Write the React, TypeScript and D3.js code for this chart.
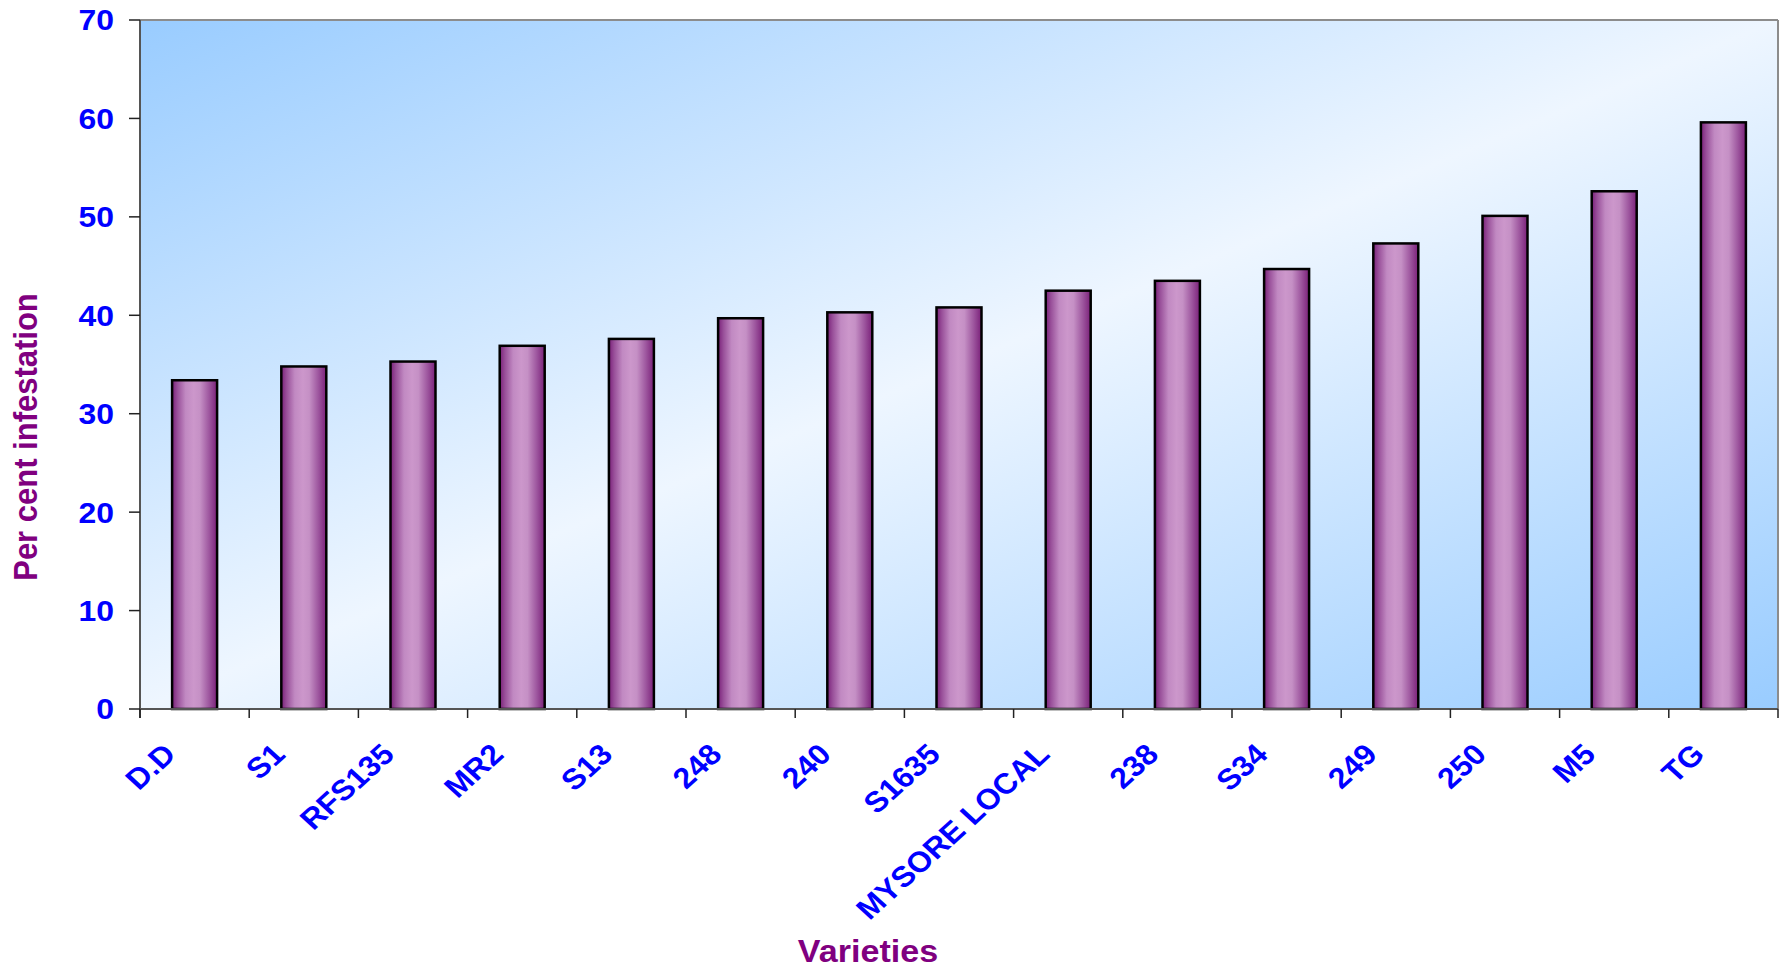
import React from "react";
import * as d3 from "d3";

// Per cent infestation recorded for each variety
const varieties = [
  "D.D", "S1", "RFS135", "MR2", "S13", "248", "240", "S1635",
  "MYSORE LOCAL", "238", "S34", "249", "250", "M5", "TG",
];
const infestation = [
  33.4, 34.8, 35.3, 36.9, 37.6, 39.7, 40.3, 40.8,
  42.5, 43.5, 44.7, 47.3, 50.1, 52.6, 59.6,
];
const yTicks = [0, 10, 20, 30, 40, 50, 60, 70];

const W = 1783;
const H = 970;
const plot = { left: 140, right: 1778, top: 20, bottom: 709 };
const STRETCH = 1.1; // labels are drawn slightly wide

export default function App() {
  const x = d3
    .scaleBand<string>()
    .domain(varieties)
    .range([plot.left, plot.right])
    .paddingInner(0.588)
    .paddingOuter(0.294);
  const step = (plot.right - plot.left) / varieties.length;
  const y = d3.scaleLinear().domain([0, 70]).range([plot.bottom, plot.top]);

  const boundaries = d3.range(varieties.length + 1).map((i) => plot.left + i * step);

  return (
    <svg
      width={W}
      height={H}
      style={{ position: "absolute", left: 0, top: 0, background: "#fff" }}
      fontFamily="'Liberation Sans', Arial, sans-serif"
    >
      <defs>
        <linearGradient id="plotBg" x1="0" y1="0" x2="1" y2="1">
          <stop offset="0" stopColor="#99CCFF" />
          <stop offset="0.5" stopColor="#EEF6FF" />
          <stop offset="1" stopColor="#99CCFF" />
        </linearGradient>
        <linearGradient id="barFill" x1="0" y1="0" x2="1" y2="0">
          <stop offset="0" stopColor="#7a2079" />
          <stop offset="0.12" stopColor="#99509a" />
          <stop offset="0.3" stopColor="#c189c2" />
          <stop offset="0.48" stopColor="#cc97cb" />
          <stop offset="0.62" stopColor="#c590c5" />
          <stop offset="0.82" stopColor="#9e579f" />
          <stop offset="1" stopColor="#7a2079" />
        </linearGradient>
      </defs>

      {/* plot area */}
      <rect
        x={plot.left}
        y={plot.top}
        width={plot.right - plot.left}
        height={plot.bottom - plot.top}
        fill="url(#plotBg)"
      />
      <line x1={plot.left} y1={plot.top} x2={plot.right} y2={plot.top} stroke="#8c8c8c" strokeWidth={2} />
      <line x1={plot.right} y1={plot.top} x2={plot.right} y2={plot.bottom} stroke="#8c8c8c" strokeWidth={2} />

      {/* bars */}
      {varieties.map((v, i) => (
        <rect
          key={v}
          x={x(v)!}
          y={y(infestation[i])}
          width={x.bandwidth()}
          height={plot.bottom - y(infestation[i])}
          fill="url(#barFill)"
          stroke="#000"
          strokeWidth={2.5}
        />
      ))}

      {/* y axis */}
      <line x1={plot.left} y1={plot.top} x2={plot.left} y2={plot.bottom + 9} stroke="#555" strokeWidth={2} />
      {yTicks.map((t) => (
        <g key={t}>
          <line x1={plot.left - 11} x2={plot.left} y1={y(t)} y2={y(t)} stroke="#222" strokeWidth={1.5} />
          <text
            transform={`translate(114,${y(t)}) scale(${STRETCH},1)`}
            dy="0.36em"
            textAnchor="end"
            fontSize={29}
            fontWeight="bold"
            fill="#0000FF"
          >
            {t}
          </text>
        </g>
      ))}

      {/* x axis */}
      <line x1={plot.left} y1={plot.bottom} x2={plot.right} y2={plot.bottom} stroke="#555" strokeWidth={2} />
      {boundaries.map((bx, i) => (
        <line key={i} x1={bx} x2={bx} y1={plot.bottom} y2={plot.bottom + 9} stroke="#222" strokeWidth={1.5} />
      ))}
      {varieties.map((v) => {
        const cx = x(v)! + x.bandwidth() / 2;
        return (
          <text
            key={v}
            transform={`translate(${cx - 17},756) scale(${STRETCH},1) rotate(-45)`}
            textAnchor="end"
            fontSize={29}
            fontWeight="bold"
            fill="#0000FF"
          >
            {v}
          </text>
        );
      })}

      {/* axis titles */}
      <text
        transform={`translate(37,437) scale(${STRETCH},1) rotate(-90)`}
        textAnchor="middle"
        fontSize={31}
        fontWeight="bold"
        fill="#800080"
      >
        Per cent infestation
      </text>
      <text
        transform={`translate(868,962) scale(${STRETCH},1)`}
        textAnchor="middle"
        fontSize={31}
        fontWeight="bold"
        fill="#800080"
      >
        Varieties
      </text>
    </svg>
  );
}
